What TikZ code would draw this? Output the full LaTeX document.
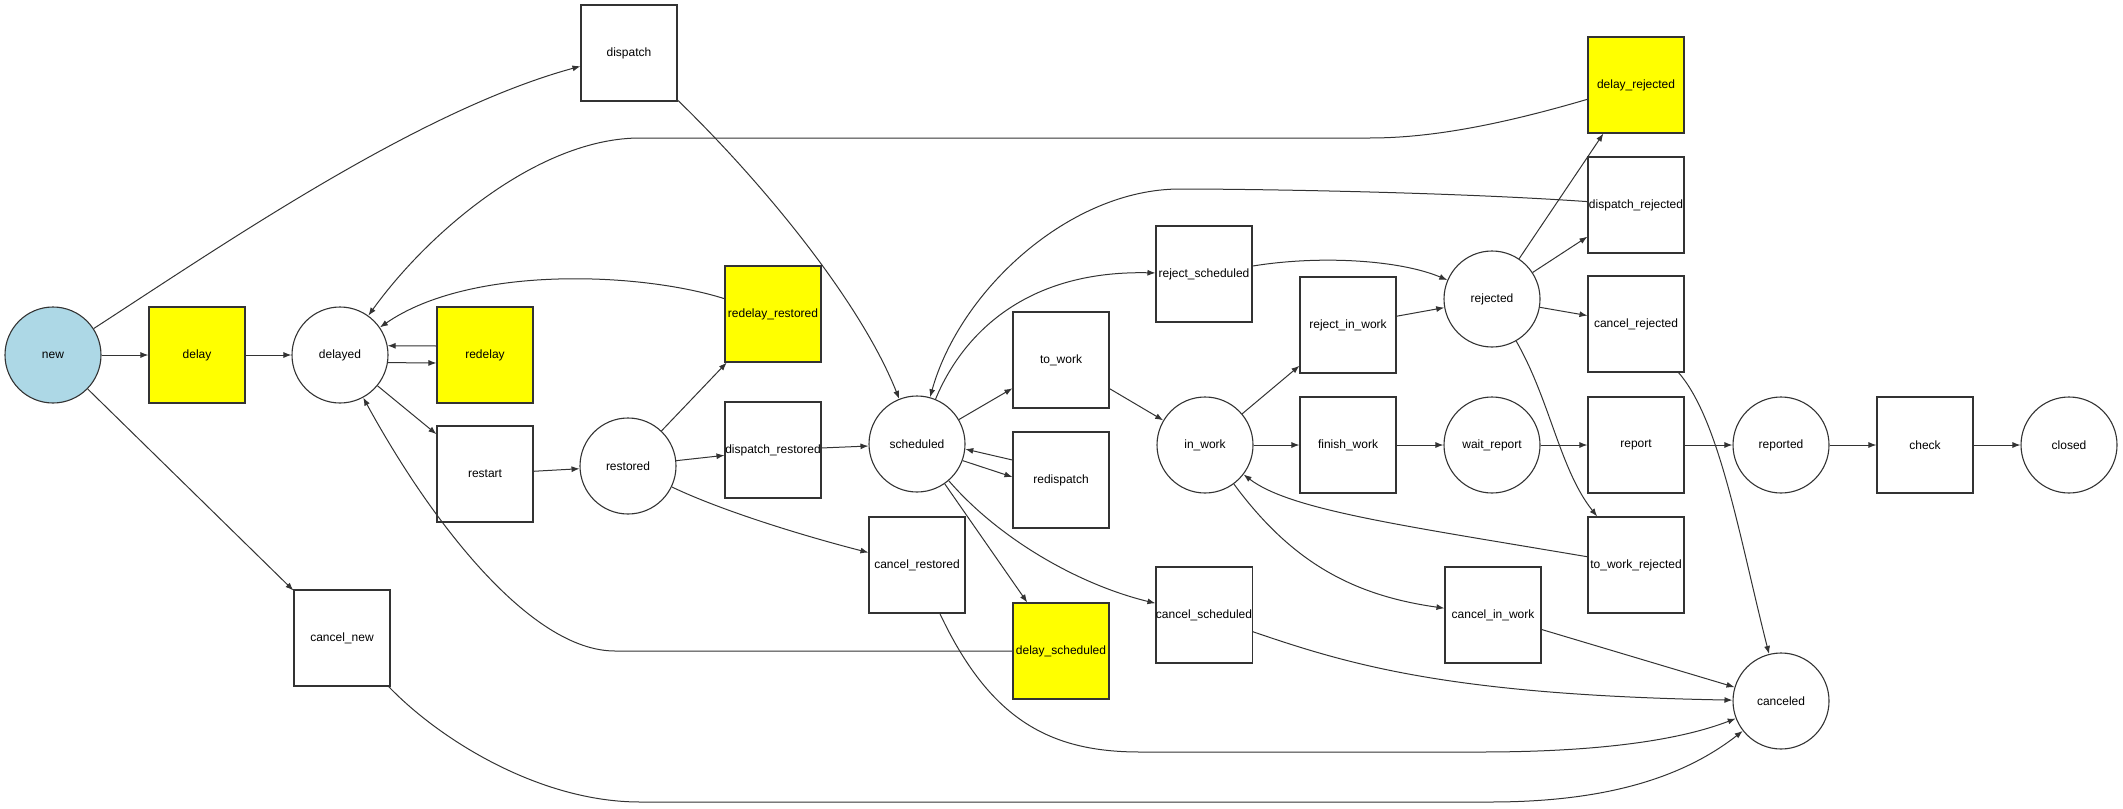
\documentclass[tikz,border=0pt]{standalone}
\usepackage{fontspec}
\setmainfont{Liberation Sans}
\usetikzlibrary{arrows.meta,calc}
\definecolor{ln}{HTML}{333333}
\definecolor{newfill}{RGB}{173,216,230}
\definecolor{yel}{RGB}{255,255,0}
\tikzset{
  base/.style={draw=ln, line width=0.55pt, inner sep=0pt, font=\fontsize{6pt}{7pt}\selectfont, text=black},
  st/.style={base, circle, minimum size=48pt},
  tr/.style={base, rectangle, minimum width=48pt, minimum height=48pt},
  hl/.style={fill=yel},
  e/.style={draw=ln, line width=0.5pt, -{Latex[length=4pt,width=3pt]}},
}
\begin{document}
\begin{tikzpicture}[x=0.5pt,y=-0.5pt]
\useasboundingbox (0,0) rectangle (2123,808);
% nodes
\node[st, fill=newfill] (new) at (53,355) {new};
\node[tr, hl] (delay) at (197,355) {delay};
\node[st] (delayed) at (340,355) {delayed};
\node[tr, hl] (redelay) at (485,355) {redelay};
\node[tr] (restart) at (485,474) {restart};
\node[st] (restored) at (628,466) {restored};
\node[tr, hl] (redelay_restored) at (773,314) {redelay\_restored};
\node[tr] (dispatch_restored) at (773,450) {dispatch\_restored};
\node[tr] (dispatch) at (629,53) {dispatch};
\node[tr] (cancel_new) at (342,638) {cancel\_new};
\node[st] (scheduled) at (917,444) {scheduled};
\node[tr] (cancel_restored) at (917,565) {cancel\_restored};
\node[tr] (to_work) at (1061,360) {to\_work};
\node[tr] (redispatch) at (1061,480) {redispatch};
\node[tr, hl] (delay_scheduled) at (1061,651) {delay\_scheduled};
\node[tr] (reject_scheduled) at (1204,274) {reject\_scheduled};
\node[st] (in_work) at (1205,445) {in\_work};
\node[tr] (cancel_scheduled) at (1204,615) {cancel\_scheduled};
\node[tr] (reject_in_work) at (1348,325) {reject\_in\_work};
\node[tr] (finish_work) at (1348,445) {finish\_work};
\node[st] (rejected) at (1492,299) {rejected};
\node[st] (wait_report) at (1492,445) {wait\_report};
\node[tr] (cancel_in_work) at (1493,615) {cancel\_in\_work};
\node[tr, hl] (delay_rejected) at (1636,85) {delay\_rejected};
\node[tr] (dispatch_rejected) at (1636,205) {dispatch\_rejected};
\node[tr] (cancel_rejected) at (1636,324) {cancel\_rejected};
\node[tr] (report) at (1636,445) {report};
\node[tr] (to_work_rejected) at (1636,565) {to\_work\_rejected};
\node[st] (reported) at (1781,445) {reported};
\node[st] (canceled) at (1781,701) {canceled};
\node[tr] (check) at (1925,445) {check};
\node[st] (closed) at (2069,445) {closed};
% edges
\draw[e] (new) -- (delay);
\draw[e] (new) .. controls (230,240) and (420,110) .. (dispatch);
\draw[e] (new) -- (cancel_new);
\draw[e] (delay) -- (delayed);
\draw[e] ($(redelay.west)+(0,-9)$) -- (delayed.11);
\draw[e] (delayed.-9) -- ($(redelay.west)+(0,8)$);
\draw[e] (delayed) -- (restart);
\draw[e] (redelay_restored) .. controls (640,272) and (470,265) .. (delayed);
\draw[e] (delay_rejected) .. controls (1500,125) and (1430,138) .. (1370,138) -- (640,138) .. controls (540,138) and (430,230) .. (delayed);
\draw[e] (delay_scheduled.west) -- (615,651) .. controls (530,651) and (430,520) .. (delayed);
\draw[e] (restart) -- (restored);
\draw[e] (restored) -- (redelay_restored);
\draw[e] (restored) -- (dispatch_restored);
\draw[e] (restored) .. controls (720,510) and (800,535) .. (cancel_restored);
\draw[e] (dispatch_restored) -- (scheduled);
\draw[e] (dispatch) .. controls (760,180) and (860,300) .. (scheduled);
\draw[e] (dispatch_rejected) .. controls (1450,192) and (1250,189) .. (1180,189) .. controls (1070,189) and (960,290) .. (scheduled);
\draw[e] (scheduled) .. controls (960,340) and (1020,270) .. (reject_scheduled);
\draw[e] (scheduled) -- (to_work);
\draw[e] ($(redispatch.west)+(0,-20)$) -- (scheduled.-6);
\draw[e] (scheduled.-20) -- ($(redispatch.west)+(0,-3)$);
\draw[e] (scheduled) -- (delay_scheduled);
\draw[e] (scheduled) .. controls (1000,540) and (1080,585) .. (cancel_scheduled);
\draw[e] (to_work) -- (in_work);
\draw[e] (reject_scheduled) .. controls (1320,255) and (1400,260) .. (rejected);
\draw[e] (in_work) -- (reject_in_work);
\draw[e] (in_work) -- (finish_work);
\draw[e] (in_work) .. controls (1290,560) and (1350,595) .. (cancel_in_work);
\draw[e] (to_work_rejected) .. controls (1400,525) and (1290,510) .. (in_work);
\draw[e] (reject_in_work) -- (rejected);
\draw[e] (finish_work) -- (wait_report);
\draw[e] (wait_report) -- (report);
\draw[e] (rejected) -- (delay_rejected);
\draw[e] (rejected) -- (dispatch_rejected);
\draw[e] (rejected) -- (cancel_rejected);
\draw[e] (rejected) .. controls (1550,400) and (1560,470) .. (to_work_rejected);
\draw[e] (report) -- (reported);
\draw[e] (reported) -- (check);
\draw[e] (check) -- (closed);
\draw[e] (cancel_rejected) .. controls (1720,420) and (1740,540) .. (canceled);
\draw[e] (cancel_in_work) -- (canceled);
\draw[e] (cancel_scheduled) .. controls (1350,665) and (1450,695) .. (canceled);
\draw[e] (cancel_restored) .. controls (990,720) and (1050,752) .. (1140,752) -- (1480,752) .. controls (1600,752) and (1680,740) .. (canceled);
\draw[e] (cancel_new) .. controls (440,740) and (540,802) .. (640,802) -- (1490,802) .. controls (1600,802) and (1680,780) .. (canceled);
\end{tikzpicture}
\end{document}
